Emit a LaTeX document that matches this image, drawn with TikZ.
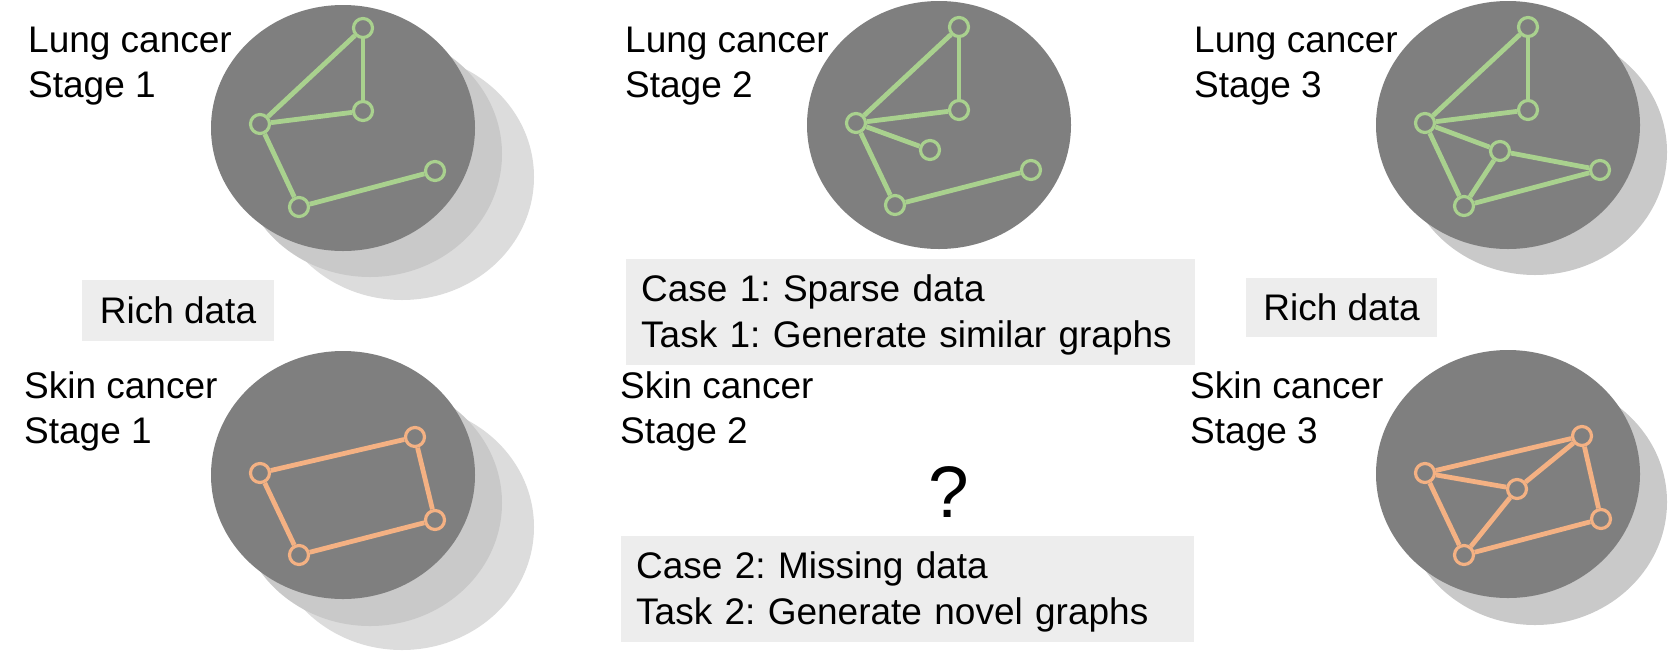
\documentclass[tikz,border=0pt]{standalone}
\usepackage{fontspec}
\setmainfont{Liberation Sans}
\usetikzlibrary{positioning}
\frenchspacing

\definecolor{disk}{HTML}{7F7F7F}
\definecolor{shadowa}{HTML}{C9C9C9}
\definecolor{shadowb}{HTML}{DCDCDC}
\definecolor{lunggreen}{HTML}{A9D18E}
\definecolor{skinorange}{HTML}{F4B183}
\definecolor{boxgray}{HTML}{EDEDED}

\begin{document}
\begin{tikzpicture}[x=1pt,y=-1pt,
    stagetext/.style={anchor=base west,inner sep=0pt,font=\fontsize{37}{46}\selectfont},
    lungv/.style={circle,draw=lunggreen,fill=disk,line width=3.2pt,minimum size=19pt,inner sep=0pt},
    skinv/.style={circle,draw=skinorange,fill=disk,line width=3.2pt,minimum size=19pt,inner sep=0pt},
    lungedge/.style={draw=lunggreen,line width=4.8pt},
    skinedge/.style={draw=skinorange,line width=4.8pt},
    richbox/.style={fill=boxgray,inner sep=0pt,font=\fontsize{37}{46}\selectfont},
    casebox/.style={fill=boxgray,anchor=north west,align=left,inner xsep=15pt,inner ysep=0pt,
        minimum height=106pt,font=\fontsize{37}{46}\selectfont}]
    \useasboundingbox (0,0) rectangle (1668,657);

    % disks
    \fill[shadowb] (402,177) ellipse (132pt and 123pt);
    \fill[shadowa] (370,154) ellipse (132pt and 123pt);
    \fill[disk] (343,128) ellipse (132pt and 123pt);
    \fill[shadowb] (402,527) ellipse (132pt and 123pt);
    \fill[shadowa] (370,503) ellipse (132pt and 123pt);
    \fill[disk] (343,475) ellipse (132pt and 124pt);
    \fill[disk] (939,125) ellipse (132pt and 124pt);
    \fill[shadowa] (1535,152) ellipse (132pt and 123pt);
    \fill[disk] (1508,125) ellipse (132pt and 124pt);
    \fill[shadowa] (1535,502) ellipse (132pt and 123pt);
    \fill[disk] (1508,474) ellipse (132pt and 124pt);

    % lung cancer, stage 1
    \node[lungv] (l1a) at (363,28) {};
    \node[lungv] (l1b) at (363,111) {};
    \node[lungv] (l1c) at (260,124) {};
    \node[lungv] (l1d) at (299,207) {};
    \node[lungv] (l1e) at (435,171) {};
    \draw[lungedge] (l1c) -- (l1a);
    \draw[lungedge] (l1a) -- (l1b);
    \draw[lungedge] (l1c) -- (l1b);
    \draw[lungedge] (l1c) -- (l1d);
    \draw[lungedge] (l1d) -- (l1e);

    % lung cancer, stage 2
    \node[lungv] (l2a) at (959,27) {};
    \node[lungv] (l2b) at (959,110) {};
    \node[lungv] (l2c) at (856,123) {};
    \node[lungv] (l2f) at (930,150) {};
    \node[lungv] (l2d) at (895,205) {};
    \node[lungv] (l2e) at (1031,170) {};
    \draw[lungedge] (l2c) -- (l2a);
    \draw[lungedge] (l2a) -- (l2b);
    \draw[lungedge] (l2c) -- (l2b);
    \draw[lungedge] (l2c) -- (l2f);
    \draw[lungedge] (l2c) -- (l2d);
    \draw[lungedge] (l2d) -- (l2e);

    % lung cancer, stage 3
    \node[lungv] (l3a) at (1528,27) {};
    \node[lungv] (l3b) at (1528,110) {};
    \node[lungv] (l3c) at (1425,123) {};
    \node[lungv] (l3f) at (1500,151) {};
    \node[lungv] (l3e) at (1600,170) {};
    \node[lungv] (l3d) at (1464,206) {};
    \draw[lungedge] (l3c) -- (l3a);
    \draw[lungedge] (l3a) -- (l3b);
    \draw[lungedge] (l3c) -- (l3b);
    \draw[lungedge] (l3c) -- (l3f);
    \draw[lungedge] (l3f) -- (l3e);
    \draw[lungedge] (l3c) -- (l3d);
    \draw[lungedge] (l3f) -- (l3d);
    \draw[lungedge] (l3d) -- (l3e);

    % skin cancer, stage 1
    \node[skinv] (s1a) at (260,473) {};
    \node[skinv] (s1b) at (415,437) {};
    \node[skinv] (s1c) at (435,520) {};
    \node[skinv] (s1d) at (299,555) {};
    \draw[skinedge] (s1a) -- (s1b);
    \draw[skinedge] (s1b) -- (s1c);
    \draw[skinedge] (s1c) -- (s1d);
    \draw[skinedge] (s1d) -- (s1a);

    % skin cancer, stage 3
    \node[skinv] (s3a) at (1425,473) {};
    \node[skinv] (s3b) at (1582,436) {};
    \node[skinv] (s3f) at (1517,489) {};
    \node[skinv] (s3c) at (1601,519) {};
    \node[skinv] (s3d) at (1464,555) {};
    \draw[skinedge] (s3a) -- (s3b);
    \draw[skinedge] (s3a) -- (s3f);
    \draw[skinedge] (s3f) -- (s3b);
    \draw[skinedge] (s3b) -- (s3c);
    \draw[skinedge] (s3c) -- (s3d);
    \draw[skinedge] (s3d) -- (s3f);
    \draw[skinedge] (s3a) -- (s3d);

    % captions
    \node[stagetext] (lung1) at (28,52) {Lung cancer};
    \node[stagetext] (lung1s) at (28,97) {Stage 1};
    \node[stagetext] (skin1) at (24,398) {Skin cancer};
    \node[stagetext] (skin1s) at (24,443) {Stage 1};
    \node[stagetext] (lung2) at (625,52) {Lung cancer};
    \node[stagetext] (lung2s) at (625,97) {Stage 2};
    \node[stagetext] (skin2) at (620,398) {Skin cancer};
    \node[stagetext] (skin2s) at (620,443) {Stage 2};
    \node[stagetext] (lung3) at (1194,52) {Lung cancer};
    \node[stagetext] (lung3s) at (1194,97) {Stage 3};
    \node[stagetext] (skin3) at (1190,398) {Skin cancer};
    \node[stagetext] (skin3s) at (1190,443) {Stage 3};

    % data boxes
    \node[richbox,minimum width=192pt,minimum height=61pt] (rich1) at (178,310.5) {Rich data};
    \node[richbox,minimum width=191pt,minimum height=59pt] (rich3) at (1341.5,307.5) {Rich data};
    \node[casebox,text width=539pt] (case1) at (626,259)
        {\rule{0pt}{33pt}Case 1: Sparse data\\Task 1: Generate similar graphs};
    \node[casebox,text width=543pt] (case2) at (621,536)
        {\rule{0pt}{33pt}Case 2: Missing data\\Task 2: Generate novel graphs};
    \node[anchor=base,inner sep=0pt,font=\fontsize{73}{80}\selectfont] (qmark) at (949,517) {?};
\end{tikzpicture}
\end{document}
